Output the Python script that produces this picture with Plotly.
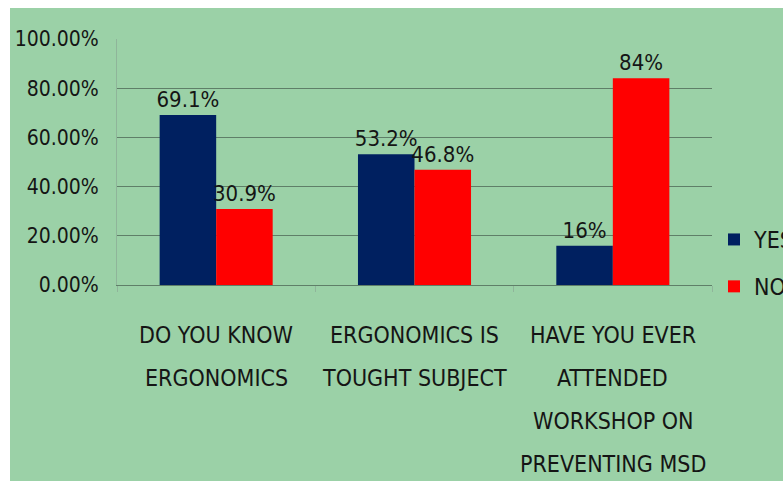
import plotly.graph_objects as go

# Survey answers (percent of respondents)
CATEGORY_LINES = [
    ["DO YOU KNOW", "ERGONOMICS"],
    ["ERGONOMICS IS", "TOUGHT SUBJECT"],
    ["HAVE YOU EVER", "ATTENDED", "WORKSHOP ON", "PREVENTING MSD"],
]
CATEGORIES = [" ".join(lines) for lines in CATEGORY_LINES]
YES_VALUES = [69.1, 53.2, 16]
NO_VALUES = [30.9, 46.8, 84]
SERIES_NAMES = ["YES", "NO"]

FONT = "DejaVu Sans Condensed, Liberation Sans Narrow, sans-serif"
TEXT_COLOR = "#151515"
GREEN = "#9bd1a7"
NAVY = "#002060"
RED = "#ff0000"

FIG_W, FIG_H = 783, 481
M_L, M_R, M_T, M_B = 117, 71, 39, 196
PLOT_W = FIG_W - M_L - M_R
PLOT_H = FIG_H - M_T - M_B


def px_x(px):
    return (px - M_L) / PLOT_W


def px_y(py):
    return (FIG_H - M_B - py) / PLOT_H


def pct_label(v):
    return f"{v:g}%"


fig = go.Figure()
for name, vals, color in zip(SERIES_NAMES, [YES_VALUES, NO_VALUES], [NAVY, RED]):
    fig.add_trace(go.Bar(
        x=CATEGORIES, y=vals, name=name, legendgroup=name,
        marker=dict(color=color, line=dict(width=0)),
        text=[pct_label(v) for v in vals],
        textposition="outside", constraintext="none", cliponaxis=False,
        textfont=dict(family=FONT, size=22, color=TEXT_COLOR),
    ))

# Multi-line category labels under each group
annotations = []
LINE_STEP = 43
FIRST_LINE = 50
for cat, lines in zip(CATEGORIES, CATEGORY_LINES):
    for i, line in enumerate(lines):
        annotations.append(dict(
            x=cat, y=0, xref="x", yref="y", text=line, showarrow=False,
            xanchor="center", yanchor="middle",
            yshift=-(FIRST_LINE + i * LINE_STEP),
            font=dict(family=FONT, size=23, color=TEXT_COLOR),
        ))

# White frame strips along the top and left edges
shapes = [
    dict(type="rect", xref="paper", yref="paper", layer="above",
         x0=px_x(0), x1=px_x(10), y0=px_y(FIG_H), y1=px_y(0),
         fillcolor="white", line=dict(width=0)),
    dict(type="rect", xref="paper", yref="paper", layer="above",
         x0=px_x(0), x1=px_x(FIG_W), y0=px_y(8), y1=px_y(0),
         fillcolor="white", line=dict(width=0)),
]

fig.update_layout(
    width=FIG_W, height=FIG_H,
    margin=dict(l=M_L, r=M_R, t=M_T, b=M_B, autoexpand=False),
    paper_bgcolor=GREEN, plot_bgcolor=GREEN,
    barmode="group", bargap=0.43, bargroupgap=0,
    font=dict(family=FONT, color=TEXT_COLOR),
    showlegend=True,
    legend=dict(
        x=px_x(714), y=px_y(218), xanchor="left", yanchor="top",
        traceorder="grouped", tracegroupgap=14,
        font=dict(family=FONT, size=23, color=TEXT_COLOR),
        bgcolor="rgba(0,0,0,0)",
    ),
    annotations=annotations,
    shapes=shapes,
)

fig.update_xaxes(
    showticklabels=False, showgrid=False,
    ticks="outside", tickson="boundaries", ticklen=6, tickcolor="#8fb59a",
    showline=True, linecolor="#5f7f68", linewidth=1,
)
fig.update_yaxes(
    range=[0, 100], dtick=20, tickformat=".2f", ticksuffix="%",
    showgrid=True, gridcolor="#5f7f68", gridwidth=1,
    zeroline=False, showline=True, linecolor="#8fb59a", linewidth=1,
    ticks="", ticklabelstandoff=13,
    tickfont=dict(family=FONT, size=21, color=TEXT_COLOR),
)

fig.write_html("out.html")
